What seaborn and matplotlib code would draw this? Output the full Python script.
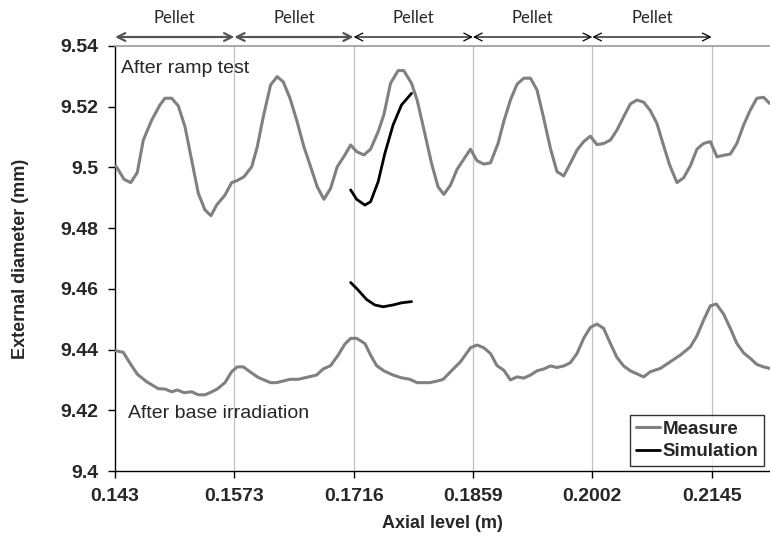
import matplotlib
matplotlib.use("Agg")
import matplotlib.pyplot as plt
import matplotlib.transforms as mtransforms
import seaborn as sns
import pandas as pd
from matplotlib.lines import Line2D

# ---------------- data ----------------
x_ticks = [0.143, 0.1573, 0.1716, 0.1859, 0.2002, 0.2145]
x_tick_labels = ["0.143", "0.1573", "0.1716", "0.1859", "0.2002", "0.2145"]
y_ticks = [9.40, 9.42, 9.44, 9.46, 9.48, 9.50, 9.52, 9.54]
y_tick_labels = ["9.4", "9.42", "9.44", "9.46", "9.48", "9.5", "9.52", "9.54"]
pellet_edges = [0.143, 0.1573, 0.1716, 0.1859, 0.2002, 0.2145]
pellet_label = "Pellet"

ramp_x = [0.1431, 0.14408, 0.14488, 0.14567, 0.14639, 0.14740, 0.14839, 0.14899, 0.14979, 0.15058,
          0.15139, 0.15219, 0.15298, 0.15378, 0.15450, 0.15518, 0.15618, 0.15698, 0.15758, 0.15845,
          0.15938, 0.16005, 0.16077, 0.16165, 0.16244, 0.16316, 0.16397, 0.16477, 0.16564, 0.16645,
          0.16724, 0.16804, 0.16884, 0.16963, 0.17055, 0.17124, 0.17196, 0.17283, 0.17363, 0.17454,
          0.17522, 0.17602, 0.17693, 0.17761, 0.17854, 0.17921, 0.18013, 0.18093, 0.18172, 0.18241,
          0.18321, 0.18400, 0.18480, 0.18560, 0.18639, 0.18720, 0.18800, 0.18891, 0.18959, 0.19039,
          0.19118, 0.19199, 0.19279, 0.19358, 0.19438, 0.19518, 0.19597, 0.19678, 0.19758, 0.19837,
          0.19917, 0.19997, 0.20076, 0.20156, 0.20237, 0.20316, 0.20396, 0.20476, 0.20555, 0.20636,
          0.20716, 0.20795, 0.20867, 0.20947, 0.21035, 0.21115, 0.21195, 0.21274, 0.21354, 0.21435,
          0.21514, 0.21594, 0.21674, 0.21753, 0.21834, 0.21914, 0.21993, 0.22073, 0.22145]
ramp_y = [9.5005, 9.4961, 9.4950, 9.4983, 9.5090, 9.5156, 9.5206, 9.5228, 9.5228, 9.5203,
          9.5134, 9.5024, 9.4915, 9.4860, 9.4841, 9.4876, 9.4909, 9.4950, 9.4956, 9.4969,
          9.5002, 9.5068, 9.5167, 9.5272, 9.5299, 9.5282, 9.5228, 9.5156, 9.5068, 9.5002,
          9.4936, 9.4895, 9.4931, 9.5002, 9.5041, 9.5074, 9.5052, 9.5041, 9.5060, 9.5118,
          9.5173, 9.5277, 9.5319, 9.5319, 9.5277, 9.5222, 9.5112, 9.5014, 9.4936, 9.4911,
          9.4942, 9.4994, 9.5027, 9.5060, 9.5022, 9.5011, 9.5015, 9.5079, 9.5151, 9.5222,
          9.5274, 9.5294, 9.5294, 9.5255, 9.5162, 9.5063, 9.4986, 9.4972, 9.5014, 9.5057,
          9.5085, 9.5103, 9.5075, 9.5079, 9.5090, 9.5123, 9.5167, 9.5209, 9.5222, 9.5215,
          9.5187, 9.5145, 9.5079, 9.5008, 9.4950, 9.4966, 9.5005, 9.5060, 9.5079, 9.5085,
          9.5035, 9.5040, 9.5044, 9.5079, 9.5140, 9.5189, 9.5228, 9.5231, 9.5211]

base_x = [0.1431, 0.14399, 0.14480, 0.14567, 0.14680, 0.14819, 0.14899, 0.14979, 0.15046, 0.15126,
          0.15219, 0.15298, 0.15378, 0.15446, 0.15525, 0.15618, 0.15698, 0.15765, 0.15837, 0.15917,
          0.16017, 0.16165, 0.16237, 0.16397, 0.16496, 0.16716, 0.16795, 0.16884, 0.16975, 0.17055,
          0.17124, 0.17196, 0.17295, 0.17363, 0.17435, 0.17522, 0.17633, 0.17734, 0.17834, 0.17921,
          0.18073, 0.18172, 0.18233, 0.18321, 0.18441, 0.18560, 0.18639, 0.18720, 0.18800, 0.18879,
          0.18959, 0.19039, 0.19118, 0.19199, 0.19279, 0.19358, 0.19438, 0.19518, 0.19597, 0.19678,
          0.19758, 0.19837, 0.19917, 0.19997, 0.20076, 0.20156, 0.20237, 0.20316, 0.20396, 0.20476,
          0.20636, 0.20716, 0.20836, 0.20956, 0.21076, 0.21195, 0.21274, 0.21354, 0.21435, 0.21507,
          0.21594, 0.21674, 0.21753, 0.21834, 0.21914, 0.21993, 0.22073, 0.22145]
base_y = [9.4396, 9.4391, 9.4355, 9.4319, 9.4294, 9.4271, 9.4270, 9.4261, 9.4267, 9.4258,
          9.4261, 9.4251, 9.4251, 9.4259, 9.4270, 9.4291, 9.4327, 9.4343, 9.4343, 9.4327,
          9.4308, 9.4291, 9.4291, 9.4302, 9.4302, 9.4316, 9.4336, 9.4347, 9.4382, 9.4418,
          9.4437, 9.4437, 9.4420, 9.4382, 9.4347, 9.4330, 9.4316, 9.4307, 9.4302, 9.4291,
          9.4291, 9.4297, 9.4302, 9.4327, 9.4360, 9.4406, 9.4415, 9.4406, 9.4387, 9.4347,
          9.4332, 9.4300, 9.4310, 9.4306, 9.4316, 9.4330, 9.4336, 9.4346, 9.4341, 9.4346,
          9.4357, 9.4387, 9.4437, 9.4473, 9.4484, 9.4470, 9.4420, 9.4374, 9.4346, 9.4330,
          9.4310, 9.4327, 9.4338, 9.4360, 9.4382, 9.4409, 9.4445, 9.4497, 9.4544, 9.4550,
          9.4517, 9.4470, 9.4420, 9.4389, 9.4371, 9.4351, 9.4343, 9.4338]

sim_ramp_x = [0.17124, 0.17196, 0.17295, 0.17363, 0.17454, 0.17534, 0.17633, 0.17734, 0.17854]
sim_ramp_y = [9.4926, 9.4895, 9.4876, 9.4887, 9.4953, 9.5046, 9.5140, 9.5206, 9.5244]
sim_base_x = [0.17124, 0.17214, 0.17315, 0.17414, 0.17514, 0.17633, 0.17734, 0.17854]
sim_base_y = [9.4621, 9.4596, 9.4565, 9.4547, 9.4541, 9.4547, 9.4554, 9.4558]

# ---------------- style ----------------
sns.set_style("white")
plt.rcParams["font.family"] = ["Liberation Sans", "DejaVu Sans"]

MEAS_COLOR = "#808080"
SIM_COLOR = "#000000"

fig = plt.figure(figsize=(7.7, 5.44), dpi=100)
ax = fig.add_axes([115 / 770, 1 - 471 / 544, 655 / 770, 425 / 544])

df_ramp = pd.DataFrame({"x": ramp_x, "y": ramp_y})
df_base = pd.DataFrame({"x": base_x, "y": base_y})
df_sr = pd.DataFrame({"x": sim_ramp_x, "y": sim_ramp_y})
df_sb = pd.DataFrame({"x": sim_base_x, "y": sim_base_y})

for d in (df_ramp, df_base):
    sns.lineplot(data=d, x="x", y="y", ax=ax, color=MEAS_COLOR, lw=2.2,
                 sort=False, estimator=None, legend=False, zorder=3)
for d in (df_sr, df_sb):
    sns.lineplot(data=d, x="x", y="y", ax=ax, color=SIM_COLOR, lw=2.0,
                 sort=False, estimator=None, legend=False, zorder=4)

ax.set_xlim(0.143, 0.2215)
ax.set_ylim(9.40, 9.54)
ax.set_xticks(x_ticks)
ax.set_xticklabels(x_tick_labels, fontweight="bold")
ax.set_yticks(y_ticks)
ax.set_yticklabels(y_tick_labels, fontweight="bold")

for xv in pellet_edges[1:]:
    ax.axvline(xv, color="#c0c0c0", lw=0.9, zorder=1)

ax.spines["right"].set_visible(False)
ax.spines["top"].set_color("#9a9a9a")
ax.spines["top"].set_linewidth(1.2)
for s in ("left", "bottom"):
    ax.spines[s].set_color("#000000")
    ax.spines[s].set_linewidth(1.0)

ax.tick_params(axis="both", which="major", direction="out", length=5, width=1,
               color="black", labelsize=14)
ax.tick_params(axis="x", bottom=True, top=False, pad=7)
ax.tick_params(axis="y", left=True, right=False, pad=7)

ax.set_xlabel("Axial level (m)", fontsize=13, fontweight="bold")
ax.set_ylabel("External diameter (mm)", fontsize=13, fontweight="bold")
ax.xaxis.set_label_coords(0.5, -0.1035)
ax.yaxis.set_label_coords(-0.131, 0.5)

ax.text(0.009, 0.948, "After ramp test", transform=ax.transAxes, fontsize=14,
        ha="left", va="center")
ax.text(0.020, 0.136, "After base irradiation", transform=ax.transAxes, fontsize=14,
        ha="left", va="center")

# pellet arrows above the plot
arrow_y = 1 - 37 / 544
label_y = 1 - 18 / 544
blend = mtransforms.blended_transform_factory(ax.transData, fig.transFigure)
for i in range(len(pellet_edges) - 1):
    a, b = pellet_edges[i], pellet_edges[i + 1]
    col = "#555555" if i < 2 else "#000000"
    lw = 1.6 if i < 2 else 0.9
    ax.annotate("", xy=(b, arrow_y), xytext=(a, arrow_y),
                xycoords=("data", "figure fraction"), textcoords=("data", "figure fraction"),
                arrowprops=dict(arrowstyle="<->", color=col, lw=lw,
                                shrinkA=0, shrinkB=0, mutation_scale=14),
                annotation_clip=False)
    ax.text((a + b) / 2, label_y, pellet_label, transform=blend,
            ha="center", va="center", fontsize=12, family=["Lato", "DejaVu Sans"])

handles = [Line2D([0], [0], color=MEAS_COLOR, lw=2.2),
           Line2D([0], [0], color=SIM_COLOR, lw=2.0)]
leg = ax.legend(handles, ["Measure", "Simulation"], loc="lower right",
                bbox_to_anchor=(0.991, 0.012), borderaxespad=0, frameon=True,
                fancybox=False, edgecolor="black",
                prop={"size": 13.5, "weight": "bold"},
                handlelength=1.3, handletextpad=0.15, borderpad=0.3, labelspacing=0.3)
leg.get_frame().set_linewidth(1.0)

fig.savefig("out.png", dpi=100)
